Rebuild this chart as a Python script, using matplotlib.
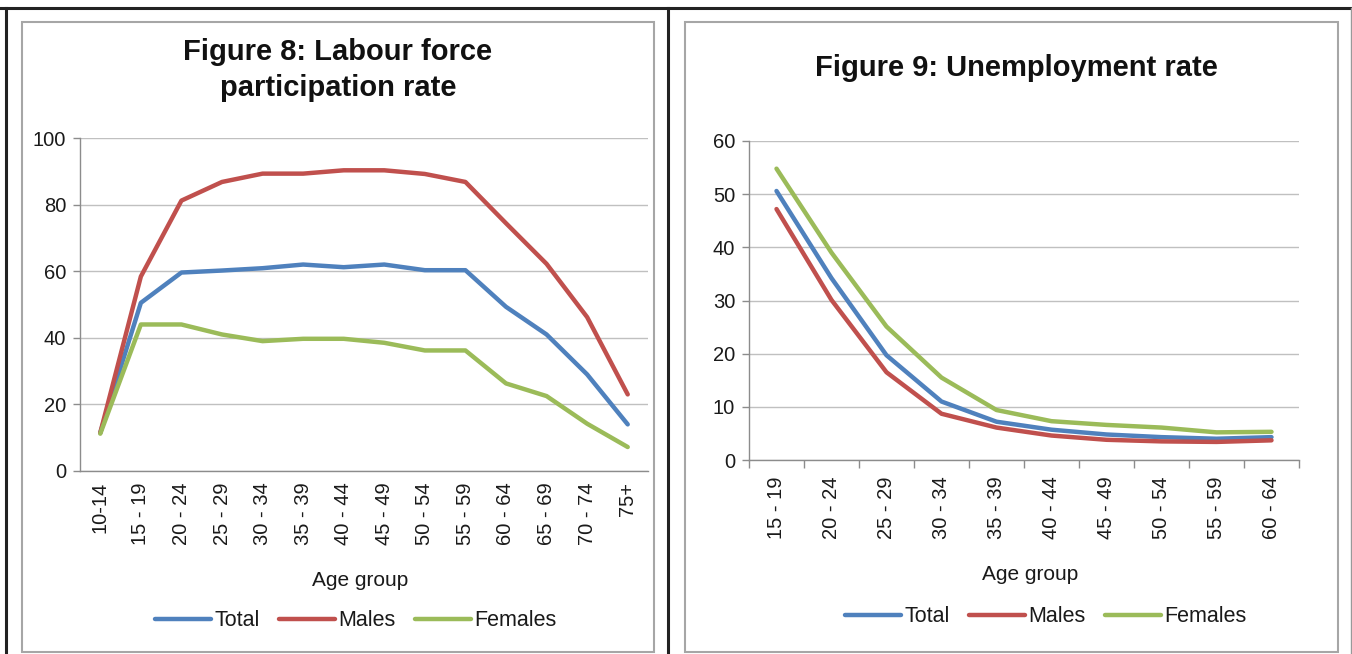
import matplotlib
matplotlib.use("Agg")
import matplotlib.pyplot as plt
from matplotlib.lines import Line2D
from matplotlib.patches import Rectangle

plt.rcParams['font.family'] = ['Liberation Sans', 'DejaVu Sans']

# ---------------- data ----------------
age_groups_8 = ["10-14", "15 - 19", "20 - 24", "25 - 29", "30 - 34", "35 - 39", "40 - 44",
                "45 - 49", "50 - 54", "55 - 59", "60 - 64", "65 - 69", "70 - 74", "75+"]
lfpr_total = [11.5, 50.5, 59.6, 60.2, 60.9, 62.0, 61.2, 62.0, 60.3, 60.3, 49.3, 41.0, 29.0, 14.0]
lfpr_males = [11.5, 58.4, 81.2, 86.8, 89.3, 89.3, 90.3, 90.3, 89.2, 86.8, 74.4, 62.2, 46.2, 23.0]
lfpr_females = [11.2, 44.0, 44.0, 41.0, 39.0, 39.7, 39.7, 38.5, 36.2, 36.2, 26.3, 22.5, 14.2, 7.2]

age_groups_9 = ["15 - 19", "20 - 24", "25 - 29", "30 - 34", "35 - 39",
                "40 - 44", "45 - 49", "50 - 54", "55 - 59", "60 - 64"]
unemp_total = [50.6, 34.2, 19.7, 11.0, 7.2, 5.7, 4.8, 4.3, 4.0, 4.3]
unemp_males = [47.2, 30.1, 16.5, 8.7, 6.1, 4.6, 3.8, 3.5, 3.4, 3.7]
unemp_females = [54.8, 39.0, 25.1, 15.5, 9.4, 7.3, 6.6, 6.1, 5.2, 5.3]

series_names = ["Total", "Males", "Females"]
colors = ["#4F81BD", "#C0504D", "#9BBB59"]

W, H = 1352, 654
fig = plt.figure(figsize=(W / 100, H / 100), dpi=100)
fig.patch.set_facecolor("white")


def fx(px):
    return px / W


def fy(py):
    return 1 - py / H


def rect_axes(x0, y0, x1, y1):
    return fig.add_axes([fx(x0), fy(y1), fx(x1) - fx(x0), fy(y0) - fy(y1)])


# outer page borders
for (xa, ya, xb, yb, c, lw) in [
    (0, 8, W, 8, "#222222", 2.2),
    (6, 8, 6, H, "#222222", 2.2),
    (668, 8, 668, H, "#222222", 2.2),
    (1351, 8, 1351, H, "#999999", 1.0),
]:
    fig.add_artist(Line2D([fx(xa), fx(xb)], [fy(ya), fy(yb)], color=c, lw=lw,
                          transform=fig.transFigure))

# chart boxes
for (x0, x1) in [(22, 654), (685, 1338)]:
    fig.add_artist(Rectangle((fx(x0), fy(652)), fx(x1) - fx(x0), fy(22) - fy(652),
                             fill=False, edgecolor="#A6A6A6", lw=1.5,
                             transform=fig.transFigure))

grid_c = "#C0C0C0"
axis_c = "#8C8C8C"
text_c = "#1a1a1a"
tick_fs = 14.5
label_fs = 15
legend_fs = 15.5
title_fs = 21


def style_axes(ax):
    for s in ["top", "right"]:
        ax.spines[s].set_visible(False)
    for s in ["left", "bottom"]:
        ax.spines[s].set_color(axis_c)
        ax.spines[s].set_linewidth(1.0)
    ax.yaxis.grid(True, color=grid_c, lw=1.0)
    ax.set_axisbelow(True)
    ax.tick_params(axis="y", colors=axis_c, labelcolor=text_c, length=5,
                   width=1.0, labelsize=tick_fs, pad=5)


def add_legend(ax, cx, cy):
    return fig.legend(handles=ax.get_lines(), labels=series_names, loc="center",
                      bbox_to_anchor=(fx(cx), fy(cy)), ncol=3, frameon=False,
                      fontsize=legend_fs, handlelength=2.6, handletextpad=0.15,
                      columnspacing=0.9, labelcolor=text_c)


# ---------- Figure 8 ----------
ax1 = rect_axes(80, 138, 648, 471)
x8 = list(range(len(age_groups_8)))
for vals, c, n in zip([lfpr_total, lfpr_males, lfpr_females], colors, series_names):
    ax1.plot(x8, vals, color=c, lw=3.2, label=n, solid_capstyle="round",
             solid_joinstyle="round")
ax1.set_xlim(-0.5, len(age_groups_8) - 0.5)
ax1.set_ylim(0, 100)
ax1.set_yticks([0, 20, 40, 60, 80, 100])
ax1.set_xticks(x8)
ax1.set_xticklabels(age_groups_8, rotation=90, fontsize=tick_fs, color=text_c)
style_axes(ax1)
ax1.tick_params(axis="x", length=0, pad=8)
ax1.grid(False, axis="x")

fig.text(fx(338), fy(70), "Figure 8: Labour force\nparticipation rate", ha="center",
         va="center", fontsize=title_fs, fontweight="bold", linespacing=1.38,
         color="#111111")
fig.text(fx(360), fy(580), "Age group", ha="center", va="center", fontsize=label_fs,
         color=text_c)
add_legend(ax1, 356, 621)

# ---------- Figure 9 ----------
ax2 = rect_axes(749, 141, 1299, 460)
x9 = list(range(len(age_groups_9)))
for vals, c, n in zip([unemp_total, unemp_males, unemp_females], colors, series_names):
    ax2.plot(x9, vals, color=c, lw=3.2, label=n, solid_capstyle="round",
             solid_joinstyle="round")
ax2.set_xlim(-0.5, len(age_groups_9) - 0.5)
ax2.set_ylim(0, 60)
ax2.set_yticks([0, 10, 20, 30, 40, 50, 60])
ax2.set_xticks(x9)
ax2.set_xticklabels(age_groups_9, rotation=90, fontsize=tick_fs, color=text_c)
ax2.set_xticks([i - 0.5 for i in range(len(age_groups_9) + 1)], minor=True)
style_axes(ax2)
ax2.tick_params(axis="x", which="major", length=0, pad=12)
ax2.tick_params(axis="x", which="minor", length=6, width=1.0, colors=axis_c)
ax2.grid(False, axis="x")

fig.text(fx(1016), fy(68), "Figure 9: Unemployment rate", ha="center", va="center",
         fontsize=title_fs, fontweight="bold", color="#111111")
fig.text(fx(1030), fy(574), "Age group", ha="center", va="center", fontsize=label_fs,
         color=text_c)
add_legend(ax2, 1046, 617)

fig.savefig("out.png", dpi=100, facecolor="white")
